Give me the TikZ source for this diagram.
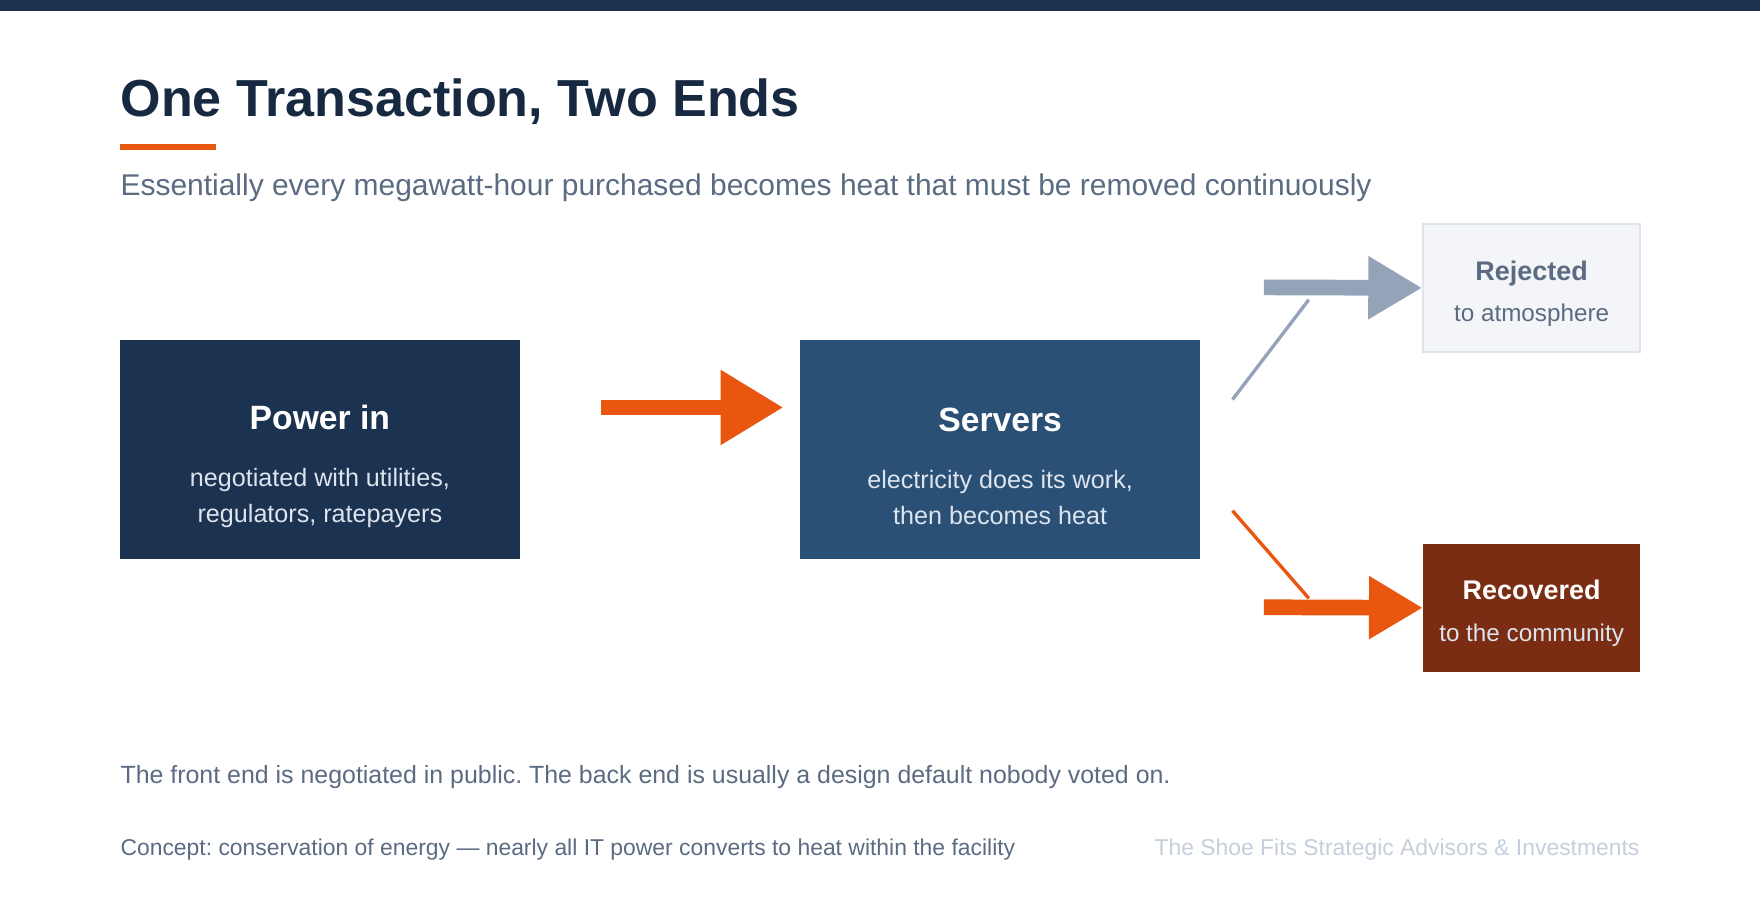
\documentclass[tikz,border=0pt]{standalone}
\usepackage{fontspec}
\setmainfont{Liberation Sans}
\usetikzlibrary{arrows.meta}
\frenchspacing
\definecolor{navy}{HTML}{1B3350}
\definecolor{steel}{HTML}{2A5075}
\definecolor{flame}{HTML}{E8560F}
\definecolor{slate}{HTML}{5A6B82}
\definecolor{mist}{HTML}{94A3B8}
\definecolor{rust}{HTML}{7B2D14}
\definecolor{paper}{HTML}{F3F5F9}
\definecolor{pale}{HTML}{C5CEDB}
\definecolor{soft}{HTML}{DDE4EE}
\tikzset{
  flowbox/.style={minimum width=178pt,minimum height=97.5pt,inner sep=0pt},
  flowtext/.style={inner sep=0pt,align=center,font=\fontsize{11.2}{16}\selectfont,text=soft},
  endbox/.style={minimum width=96.5pt,minimum height=57pt,inner sep=0pt},
  endtext/.style={inner sep=0pt,align=center,font=\fontsize{10.8}{13}\selectfont},
  fat/.style={line width=7pt,-{Triangle[length=24pt,width=26.5pt]}},
  bigfat/.style={line width=7pt,-{Triangle[length=28pt,width=31.5pt]}},
  thin/.style={line width=1.5pt}
}
\newcommand{\boxhead}[1]{{\fontsize{15}{18}\selectfont\bfseries\color{white}#1}}
\begin{document}
\begin{tikzpicture}[x=0.5pt,y=0.5pt]
        \useasboundingbox (0,0) rectangle (1568,-820);
        \fill[navy] (0,0) rectangle (1568,-10);
        \node[anchor=base west,inner sep=0pt,font=\fontsize{23.2}{28}\selectfont\bfseries,text=navy!80!black] (title) at (107,-104) {One Transaction, Two Ends};
        \fill[flame] (107,-128) rectangle (192,-134);
        \node[anchor=base west,inner sep=0pt,font=\fontsize{13.35}{16}\selectfont,text=slate] (sub) at (107,-174) {Essentially every megawatt-hour purchased becomes heat that must be removed continuously};
        % boxes
        \node[flowbox,fill=navy] (power) at (285,-400.5) {};
        \node[flowtext] (powertext) at ([yshift=-7.5pt]power.center) {\boxhead{Power in}\\[9.5pt]
          negotiated with utilities,\\ regulators, ratepayers};
        \node[flowbox,fill=steel] (servers) at (891,-400.5) {};
        \node[flowtext] (serverstext) at ([yshift=-7.5pt]servers.center) {\boxhead{Servers}\\[9.5pt]
          electricity does its work,\\ then becomes heat};
        \node[endbox,fill=paper,draw=soft,line width=1pt] (rejected) at (1364.5,-256.5) {};
        \node[endtext,text=slate] (rejectedtext) at ([yshift=-2.5pt]rejected.center) {{\fontsize{12}{14}\selectfont\bfseries Rejected}\\[5.5pt]
          to atmosphere};
        \node[endbox,fill=rust] (recovered) at (1364.5,-541.5) {};
        \node[endtext,text=soft] (recoveredtext) at ([yshift=-2.5pt]recovered.center) {{\fontsize{12}{14}\selectfont\bfseries\color{white}Recovered}\\[5.5pt]
          to the community};
        % arrows
        \coordinate (inS) at (535,-363);
        \coordinate (inE) at (698,-363);
        \draw[bigfat,flame] (inS) -- (inE);
        \coordinate (rejS) at (1126,-256);
        \coordinate (recS) at (1126,-541);
        \draw[fat,mist] (rejS) -- (rejected.west);
        \draw[fat,flame] (recS) -- (recovered.west);
        \coordinate (upA) at (1098,-356);
        \coordinate (upB) at (1166,-267);
        \coordinate (dnA) at (1098,-455);
        \coordinate (dnB) at (1166,-533);
        \draw[thin,mist] (upA) -- (upB);
        \draw[thin,flame] (dnA) -- (dnB);
        % footer
        \node[anchor=base west,inner sep=0pt,font=\fontsize{11.1}{14}\selectfont,text=slate] (note) at (107,-698) {The front end is negotiated in public. The back end is usually a design default nobody voted on.};
        \node[anchor=base west,inner sep=0pt,font=\fontsize{10.2}{12}\selectfont,text=slate] (concept) at (107,-762) {Concept: conservation of energy --- nearly all IT power converts to heat within the facility};
        \node[anchor=base east,inner sep=0pt,font=\fontsize{10.2}{12}\selectfont,text=pale] (credit) at (1461,-762) {The Shoe Fits Strategic Advisors \& Investments};
    \end{tikzpicture}
\end{document}
